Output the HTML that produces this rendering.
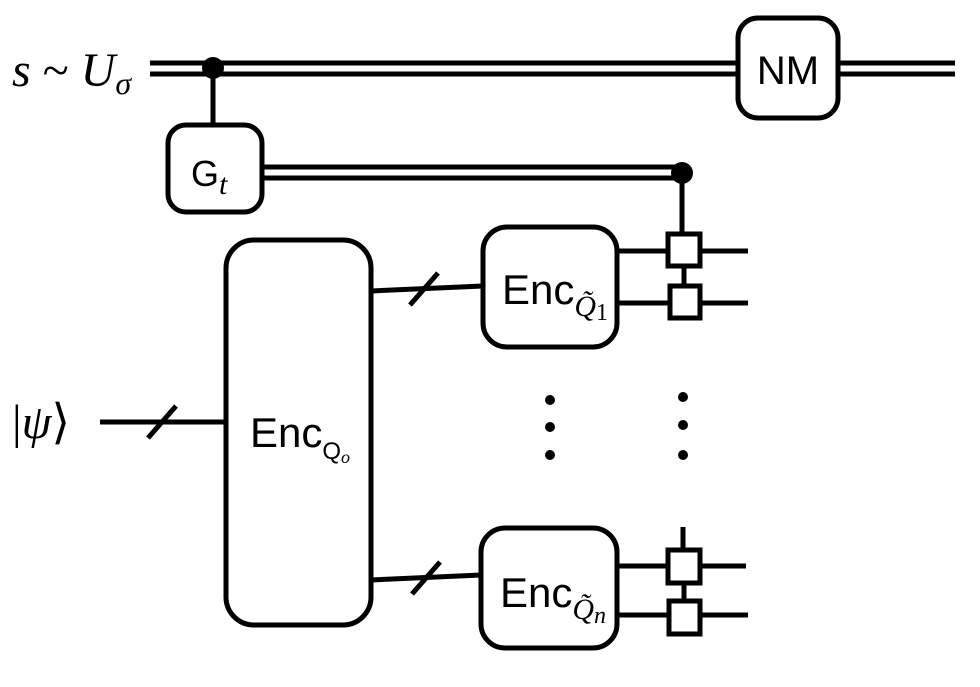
<!DOCTYPE html>
<html><head><meta charset="utf-8"><style>body{margin:0;background:#fff}</style></head><body>
<svg width="980" height="682" viewBox="0 0 980 682" xmlns="http://www.w3.org/2000/svg">
<g stroke="#000" stroke-width="5" fill="none">
<line x1="150" y1="63" x2="740" y2="63"/><line x1="150" y1="74" x2="740" y2="74"/>
<line x1="838" y1="63" x2="955" y2="63"/><line x1="838" y1="74" x2="955" y2="74"/>
<rect x="738" y="18" width="100" height="100" rx="20" fill="#fff"/>
<line x1="213" y1="68" x2="213" y2="125"/>
<line x1="262" y1="167" x2="682" y2="167"/><line x1="262" y1="178" x2="682" y2="178"/>
<rect x="168" y="125" width="94" height="87" rx="18" fill="#fff"/>
<line x1="682" y1="173" x2="682" y2="236"/>
<line x1="100" y1="422" x2="226" y2="422"/>
<line x1="148" y1="438" x2="176" y2="406"/>
<rect x="226" y="240" width="145" height="385" rx="28" fill="#fff"/>
<line x1="371" y1="291" x2="483" y2="286"/>
<line x1="410" y1="305" x2="438" y2="273"/>
<line x1="371" y1="580" x2="481" y2="575"/>
<line x1="412" y1="594" x2="440" y2="562"/>
<rect x="483" y="227" width="134" height="120" rx="24" fill="#fff"/>
<line x1="617" y1="251" x2="748" y2="251"/>
<line x1="617" y1="303" x2="748" y2="303"/>
<line x1="684" y1="266" x2="684" y2="286"/>
<rect x="668" y="234" width="32" height="32" fill="#fff"/>
<rect x="670" y="286" width="30" height="32" fill="#fff"/>
<rect x="481" y="528" width="136" height="120" rx="24" fill="#fff"/>
<line x1="617" y1="566" x2="746" y2="566"/>
<line x1="617" y1="615" x2="748" y2="615"/>
<line x1="683" y1="527" x2="683" y2="550"/>
<line x1="684" y1="583" x2="684" y2="601"/>
<rect x="668" y="550" width="32" height="33" fill="#fff"/>
<rect x="669" y="601" width="31" height="33" fill="#fff"/>
</g>
<g fill="#000">
<circle cx="213" cy="68" r="11"/><circle cx="682" cy="173" r="11"/>
<circle cx="550" cy="400" r="5"/><circle cx="550" cy="427" r="5"/><circle cx="550" cy="455" r="5"/>
<circle cx="683" cy="397" r="5"/><circle cx="683" cy="425" r="5"/><circle cx="683" cy="455" r="5"/>
</g>
<g font-family="Liberation Sans, sans-serif" fill="#000">
<text x="788" y="84" font-size="40" text-anchor="middle">NM</text>
<text x="191" y="186" font-size="36">G<tspan font-family="Liberation Serif, serif" font-style="italic" font-size="30" dy="8">t</tspan></text>
<text x="250" y="447" font-size="42">Enc<tspan font-size="24" dy="12">Q</tspan><tspan font-family="Liberation Serif, serif" font-style="italic" font-size="18" dy="4">o</tspan></text>
<text x="502" y="304" font-size="42">Enc<tspan font-family="Liberation Serif, serif" font-style="italic" font-size="30" dy="12">Q̃</tspan><tspan font-family="Liberation Serif, serif" font-size="24" dy="4">1</tspan></text>
<text x="500" y="607" font-size="42">Enc<tspan font-family="Liberation Serif, serif" font-style="italic" font-size="30" dy="12">Q̃</tspan><tspan font-family="Liberation Serif, serif" font-style="italic" font-size="24" dy="4">n</tspan></text>
</g>
<g font-family="Liberation Serif, serif" fill="#000" font-size="48">
<text x="12" y="86"><tspan font-style="italic">s</tspan> ~ <tspan font-style="italic">U</tspan><tspan font-style="italic" font-size="32" dy="8">σ</tspan></text>
<text x="12" y="438">|<tspan font-style="italic">ψ</tspan>⟩</text>
</g>
</svg>
</body></html>
